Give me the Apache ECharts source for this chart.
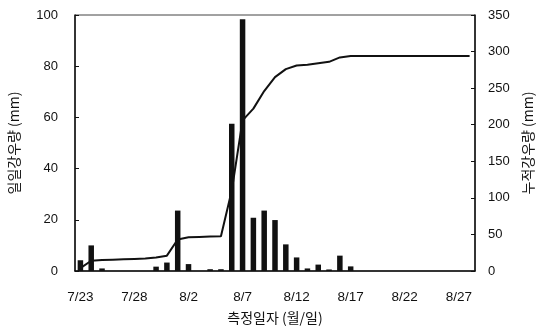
<!DOCTYPE html>
<html><head><meta charset="utf-8">
<script src="https://cdn.jsdelivr.net/npm/echarts@6/dist/echarts.min.js"></script>
<style>html,body{margin:0;padding:0;background:#fff}#c{width:544px;height:328px}</style>
</head><body><div id="c"></div>
<script>
const dates = ['7/23','7/24','7/25','7/26','7/27','7/28','7/29','7/30','7/31',
 '8/1','8/2','8/3','8/4','8/5','8/6','8/7','8/8','8/9','8/10','8/11','8/12','8/13','8/14',
 '8/15','8/16','8/17','8/18','8/19','8/20','8/21','8/22','8/23','8/24','8/25','8/26','8/27','8/28'];
const dailyRain = [4.2,10,1,0,0,0,0,1.7,3.3,
 23.6,2.7,0,0.7,0.7,57.5,98.3,20.8,23.6,19.9,10.4,5.3,1.0,2.5,
 0.6,6.0,1.8,0,0,0,0,0,0,0,0,0,0,0];
const cumRain = [4,14,15,15.5,16,16.5,17,18.5,21,
 43,46,46.5,47,47.5,110,206,222,246,265,276,281,282,284,
 286,292,294,294,294,294,294,294,294,294,294,294,294,294];
const leftTicks = [0,20,40,60,80,100];
const rightTicks = [0,50,100,150,200,250,300,350];

const font = 'Liberation Sans, Arial, sans-serif';
const chart = echarts.init(document.getElementById('c'));
chart.setOption({
  animation:false,
  backgroundColor:'#fff',
  grid:{left:75,right:69,top:15,bottom:57,show:true,borderColor:'#444',borderWidth:1,containLabel:false,outerBoundsMode:'none'},
  xAxis:{type:'category',data:dates,boundaryGap:true,
    name:'측정일자 (월/일)',nameLocation:'middle',nameGap:40,
    nameTextStyle:{fontFamily:'Noto Sans CJK KR',fontSize:14,color:'#111'},
    axisLine:{lineStyle:{color:'#111',width:1.5}},
    axisTick:{show:false},
    axisLabel:{interval:4,margin:19,fontFamily:font,fontSize:13.5,color:'#111'},
    splitLine:{show:false}},
  yAxis:[
   {type:'value',min:leftTicks[0],max:leftTicks[leftTicks.length-1],interval:20,
    name:'일일강우량 (mm)',nameLocation:'middle',nameGap:54,nameRotate:90,
    nameTextStyle:{fontFamily:'Noto Sans CJK KR',fontSize:14,color:'#111'},
    axisLine:{show:true,lineStyle:{color:'#111',width:1.5}},
    axisTick:{show:true,inside:true,length:4,lineStyle:{color:'#111'}},
    axisLabel:{margin:17,fontFamily:font,fontSize:13,color:'#111'},
    splitLine:{show:false}},
   {type:'value',min:rightTicks[0],max:rightTicks[rightTicks.length-1],interval:50,position:'right',
    name:'누적강우량 (mm)',nameLocation:'middle',nameGap:46,nameRotate:90,
    nameTextStyle:{fontFamily:'Noto Sans CJK KR',fontSize:14,color:'#111'},
    axisLine:{show:true,lineStyle:{color:'#111',width:1.5}},
    axisTick:{show:true,inside:true,length:4,lineStyle:{color:'#111'}},
    axisLabel:{margin:13,fontFamily:font,fontSize:13,color:'#111'},
    splitLine:{show:false}}
  ],
  series:[
   {type:'bar',data:dailyRain,yAxisIndex:0,barWidth:5.5,itemStyle:{color:'#111'}},
   {type:'line',data:cumRain,yAxisIndex:1,symbol:'none',smooth:false,
    lineStyle:{color:'#111',width:2}}
  ]
});
</script></body></html>
